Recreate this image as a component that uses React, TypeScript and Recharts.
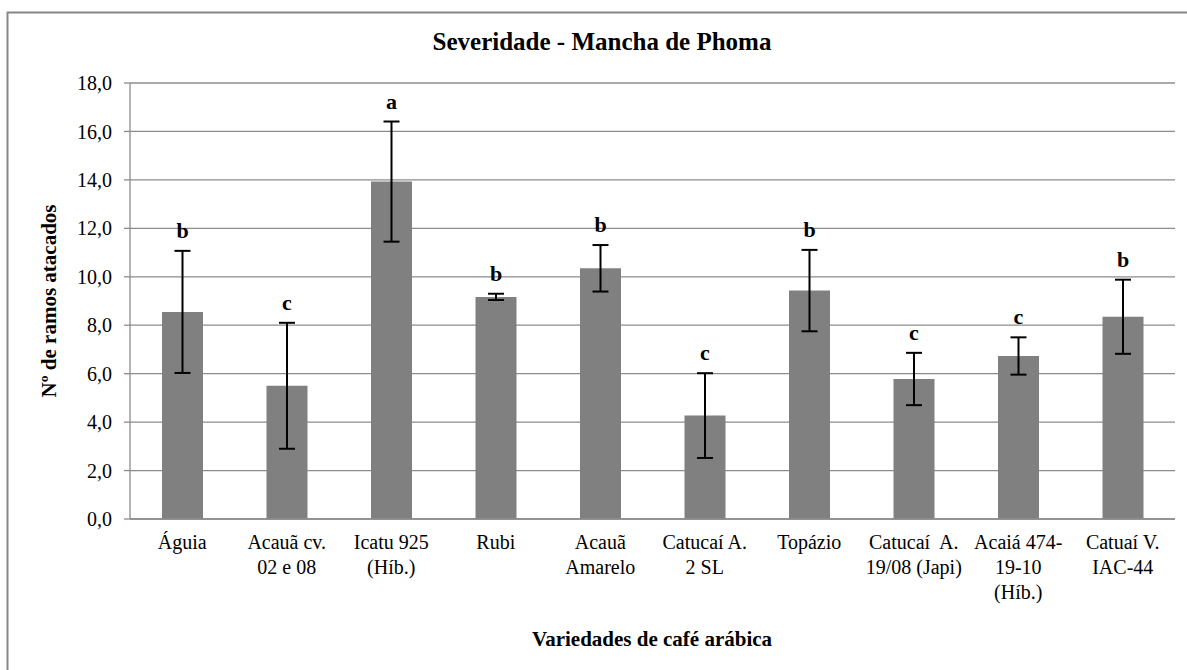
import React from 'react';
import { BarChart, Bar, XAxis, YAxis, CartesianGrid, ErrorBar } from 'recharts';

const categories = [
  'Águia',
  'Acauã cv.\n02 e 08',
  'Icatu 925\n(Híb.)',
  'Rubi',
  'Acauã\nAmarelo',
  'Catucaí A.\n2 SL',
  'Topázio',
  'Catucaí  A.\n19/08 (Japi)',
  'Acaiá 474-\n19-10\n(Híb.)',
  'Catuaí V.\nIAC-44',
];
const values = [8.55, 5.5, 13.93, 9.17, 10.35, 4.27, 9.43, 5.78, 6.73, 8.35];
const errors = [2.52, 2.6, 2.48, 0.13, 0.96, 1.75, 1.68, 1.08, 0.77, 1.53];
const letters = ['b', 'c', 'a', 'b', 'b', 'c', 'b', 'c', 'c', 'b'];
const yTicks = [0, 2, 4, 6, 8, 10, 12, 14, 16, 18];
const edgeTicks = [0, 1, 2, 3, 4, 5, 6, 7, 8, 9, 10];

const data = categories.map((name, i) => ({ name, value: values[i], err: errors[i] }));

const FONT = 'Liberation Serif';
const GRID = '#8c8c8c';
const serif = { fontFamily: FONT };

const CatTick = (props: any) => {
  const { x, y, payload } = props;
  const lines = String(payload.value).split('\n');
  return (
    <text x={x} y={y} textAnchor="middle" style={serif} fontSize={20} fill="#000">
      {lines.map((l, i) => (
        <tspan key={i} x={x} dy={i === 0 ? 22 : 25} style={{ whiteSpace: 'pre' }}>
          {l}
        </tspan>
      ))}
    </text>
  );
};

const LetterLabel = (props: any) => {
  const { x, y, width, height, index, value } = props;
  if (value == null || index == null) return null;
  const pxPerUnit = height / value;
  const top = y - errors[index] * pxPerUnit;
  return (
    <text x={x + width / 2} y={top - 13} textAnchor="middle" style={serif} fontWeight="bold" fontSize={22} fill="#000">
      {letters[index]}
    </text>
  );
};

export default function App() {
  return (
    <div style={{ position: 'absolute', left: 0, top: 0, width: 1187, height: 670, background: '#fff', fontFamily: FONT }}>
      <BarChart
        width={1187}
        height={670}
        data={data}
        margin={{ top: 83, right: 12, bottom: 31, left: 0 }}
        style={serif}
      >
        <CartesianGrid vertical={false} stroke={GRID} strokeWidth={1.3} />
        <XAxis
          xAxisId="edges"
          type="number"
          domain={[0, 10]}
          ticks={edgeTicks}
          allowDataOverflow
          height={0}
          axisLine={false}
          tick={false}
          tickLine={{ stroke: GRID, strokeWidth: 1.3 }}
          tickSize={6}
        />
        <XAxis
          xAxisId="cat"
          dataKey="name"
          height={120}
          interval={0}
          tickLine={false}
          axisLine={{ stroke: GRID, strokeWidth: 1.3 }}
          tick={<CatTick />}
        />
        <YAxis
          width={130}
          domain={[0, 18]}
          ticks={yTicks}
          interval={0}
          tickFormatter={(v: number) => v.toFixed(1).replace('.', ',')}
          tick={{ fontFamily: FONT, fontSize: 20, fill: '#000', style: serif }}
          tickSize={6}
          tickMargin={12}
          tickLine={{ stroke: GRID, strokeWidth: 1.3 }}
          axisLine={{ stroke: GRID, strokeWidth: 1.3 }}
        />
        <Bar
          xAxisId="cat"
          dataKey="value"
          fill="#808080"
          barSize={41}
          isAnimationActive={false}
          label={<LetterLabel />}
        >
          <ErrorBar dataKey="err" width={8} strokeWidth={2} stroke="#000" direction="y" />
        </Bar>
      </BarChart>
      <svg
        width={1187}
        height={670}
        style={{ position: 'absolute', left: 0, top: 0, pointerEvents: 'none' }}
      >
        <rect x={7.5} y={12.5} width={1250} height={700} fill="none" stroke="#878787" strokeWidth={2} />
        <text x={602} y={50} textAnchor="middle" style={serif} fontWeight="bold" fontSize={25} fill="#000">
          Severidade - Mancha de Phoma
        </text>
        <text x={652} y={646} textAnchor="middle" style={serif} fontWeight="bold" fontSize={21} fill="#000">
          Variedades de café arábica
        </text>
        <text
          x={0}
          y={0}
          transform="translate(56,301) rotate(-90)"
          textAnchor="middle"
          style={serif}
          fontWeight="bold"
          fontSize={21}
          fill="#000"
        >
          Nº de ramos atacados
        </text>
      </svg>
    </div>
  );
}
